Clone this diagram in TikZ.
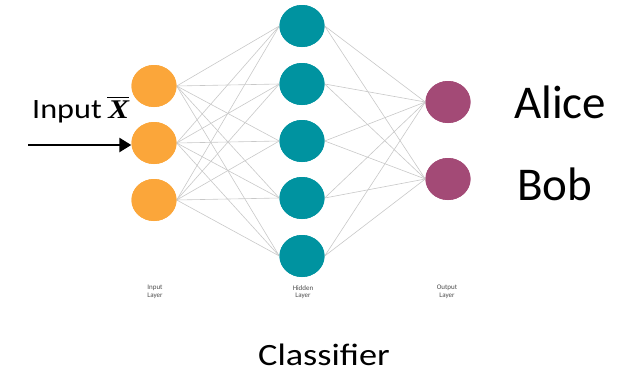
\documentclass[tikz,border=0pt]{standalone}
\usepackage{fontspec}
\usepackage{graphicx}
\setmainfont{Carlito}
\newfontfamily\xserif{Liberation Serif}
\usetikzlibrary{shapes.geometric,arrows.meta}
\definecolor{inorange}{RGB}{251,166,58}
\definecolor{hidteal}{RGB}{0,147,160}
\definecolor{outplum}{RGB}{163,74,118}
\definecolor{wire}{RGB}{200,200,200}
\newcommand{\barX}{\vbox{\hrule height 1.6pt\kern 2.2pt\hbox{\kern1pt\xserif\fontsize{27}{29}\selectfont\bfseries\itshape X}}}
\tikzset{
  neuron/.style={ellipse, minimum width=45pt, minimum height=42pt, inner sep=0pt, draw=none},
  inneuron/.style={neuron, fill=inorange},
  hidneuron/.style={neuron, fill=hidteal},
  outneuron/.style={neuron, fill=outplum},
  wireline/.style={draw=wire, line width=0.6pt},
  layerlabel/.style={font=\fontsize{7}{7.5}\selectfont, text=black!70, align=center},
  biglabel/.style={font=\fontsize{47}{50}\selectfont, anchor=base west, inner sep=0pt},
}
\begin{document}
\begin{tikzpicture}[x=1pt,y=-1pt]
\useasboundingbox (0,0) rectangle (631,375);
% input layer
\node[inneuron] (i1) at (154,86) {};
\node[inneuron] (i2) at (154,143) {};
\node[inneuron] (i3) at (154,200) {};
% hidden layer
\node[hidneuron] (h1) at (302,26) {};
\node[hidneuron] (h2) at (302,84) {};
\node[hidneuron] (h3) at (302,141) {};
\node[hidneuron] (h4) at (302,198) {};
\node[hidneuron] (h5) at (302,256) {};
% output layer
\node[outneuron] (o1) at (448,102) {};
\node[outneuron] (o2) at (448,179) {};
% wires
\foreach \i in {1,2,3}{
  \foreach \h in {1,...,5}{
    \draw[wireline] (i\i.east) -- (h\h.west);
  }
}
\foreach \h in {1,...,5}{
  \foreach \o in {1,2}{
    \draw[wireline] (h\h.east) -- (o\o.west);
  }
}
% redraw nodes on top of wires
\foreach \i in {1,2,3}{ \node[inneuron] at (i\i) {}; }
\foreach \h in {1,...,5}{ \node[hidneuron] at (h\h) {}; }
\foreach \o in {1,2}{ \node[outneuron] at (o\o) {}; }
% layer labels
\node[layerlabel] (li) at (155,292) {Input\\Layer};
\node[layerlabel] (lh) at (303,292) {Hidden\\Layer};
\node[layerlabel] (lo) at (447,292) {Output\\Layer};
% output labels
\node[biglabel] (alice) at (514,118) {Alice};
\node[biglabel] (bob) at (517,200) {Bob};
% input label and arrow
\node[font=\fontsize{28}{30}\selectfont, anchor=base west, inner sep=0pt] (inlab) at (32,118) {\scalebox{1.15}[1]{Input\,\barX}};
\coordinate (astart) at (28,145);
\draw[line width=2.6pt, -{Triangle[length=12pt,width=14pt]}] (astart) -- (i2.west |- astart);
% caption
\node[font=\fontsize{31}{34}\selectfont, anchor=base, inner sep=0pt] (cap) at (324,365) {\scalebox{1.17}[1]{Classifier}};
\end{tikzpicture}
\end{document}
